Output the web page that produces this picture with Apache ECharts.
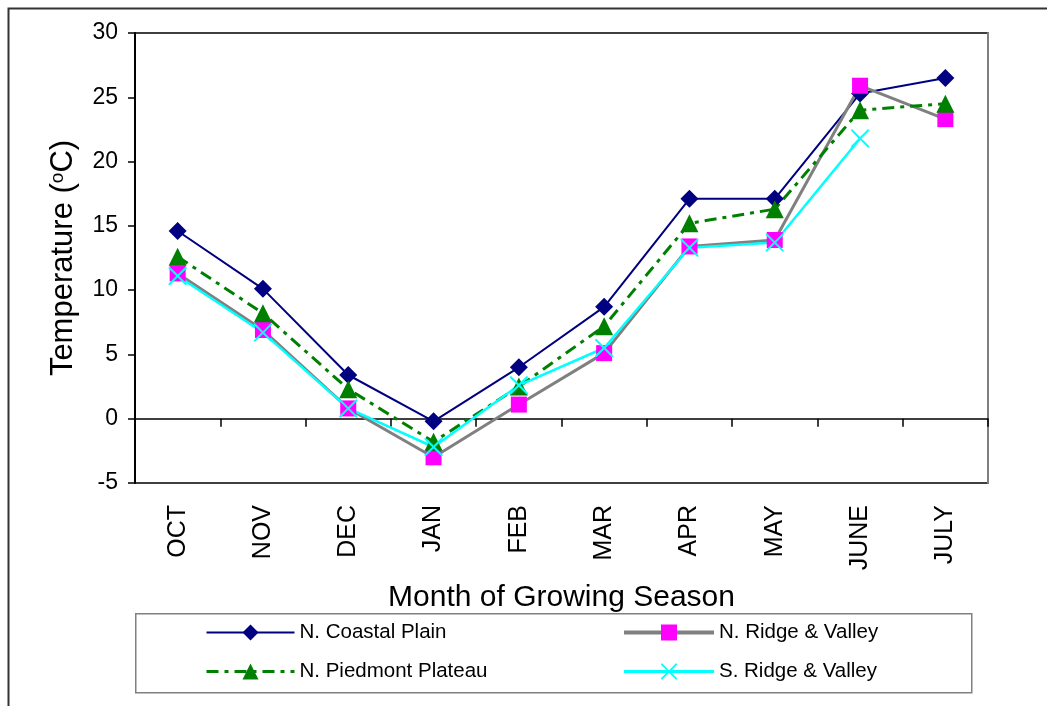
<!DOCTYPE html>
<html>
<head>
<meta charset="utf-8">
<script src="https://cdn.jsdelivr.net/npm/echarts@6/dist/echarts.min.js"></script>
<style>
  html, body { margin: 0; padding: 0; background: #ffffff; }
  #chart { width: 1047px; height: 706px; }
</style>
</head>
<body>
<div id="chart"></div>
<script>
// Months of the growing season (category axis)
const months = ['OCT', 'NOV', 'DEC', 'JAN', 'FEB', 'MAR', 'APR', 'MAY', 'JUNE', 'JULY'];

// Mean temperature (°C) per region
const coastalPlainN  = [14.6, 10.1, 3.4, -0.2, 4.0, 8.7, 17.1, 17.1, 25.3, 26.5];
const ridgeValleyN   = [11.3, 6.9, 0.8, -3.0, 1.1, 5.1, 13.4, 13.9, 25.9, 23.3];
const piedmontN      = [12.6, 8.2, 2.3, -1.8, 2.5, 7.2, 15.2, 16.3, 24.0, 24.5];
const ridgeValleyS   = [11.1, 6.7, 0.8, -2.2, 2.6, 5.5, 13.3, 13.7, 21.8, null];

// Y axis range and step
const yMin = -5, yMax = 30, yStep = 5;

const FONT = '"Liberation Sans", Arial, sans-serif';
// Thin "x" marker drawn as a filled outline
const crossSymbol = 'path://M0,0 L1.6,0 L10,8.4 L18.4,0 L20,0 L20,1.6 L11.6,10 L20,18.4 L20,20 L18.4,20 L10,11.6 L1.6,20 L0,20 L0,18.4 L8.4,10 L0,1.6 Z';

const chart = echarts.init(document.getElementById('chart'), null, { renderer: 'canvas' });

const legendText = { fontFamily: FONT, fontSize: 20.5, color: '#000', lineHeight: 20 };

chart.setOption({
  animation: false,
  backgroundColor: '#ffffff',
  textStyle: { fontFamily: FONT },
  graphic: [
    { // outer frame
      type: 'rect', left: 6, top: 6, z: -10,
      shape: { width: 1100, height: 760 },
      style: { fill: 'none', stroke: '#333333', lineWidth: 2 }
    },
    { // legend frame
      type: 'rect', left: 135, top: 613, z: -5,
      shape: { width: 836, height: 79 },
      style: { fill: '#ffffff', stroke: '#808080', lineWidth: 1.5 }
    }
  ],
  grid: {
    left: 135, right: 59, top: 33, bottom: 223,
    show: true, borderColor: '#000000', borderWidth: 1.5, backgroundColor: 'transparent'
  },
  legend: [
    {
      left: 205, top: 622, orient: 'vertical', itemGap: 18, padding: 0,
      itemWidth: 88, itemHeight: 20,
      data: [
        { name: 'N. Coastal Plain', lineStyle: { width: 2 } },
        { name: 'N. Piedmont Plateau', lineStyle: { width: 3 } }
      ],
      textStyle: legendText
    },
    {
      left: 622, top: 622, orient: 'vertical', itemGap: 18, padding: 0,
      itemWidth: 90, itemHeight: 20,
      data: [
        { name: 'N. Ridge & Valley', lineStyle: { width: 4 } },
        { name: 'S. Ridge & Valley', lineStyle: { width: 3 } }
      ],
      textStyle: legendText
    }
  ],
  xAxis: [
    { // labelled axis along the bottom of the plot
      type: 'category', data: months, position: 'bottom',
      axisLine: { show: false, onZero: false },
      axisTick: { show: false },
      axisLabel: { rotate: 90, margin: 22, fontSize: 25, color: '#000', fontFamily: FONT },
      name: 'Month of Growing Season',
      nameLocation: 'middle', nameGap: 100,
      nameTextStyle: { fontSize: 30, color: '#000', fontFamily: FONT },
      splitLine: { show: false }
    },
    { // zero line with ticks between months
      type: 'category', data: months, position: 'top',
      axisLine: { show: true, onZero: true, lineStyle: { color: '#000', width: 1.5 } },
      axisTick: { show: true, inside: true, length: 8, lineStyle: { color: '#000', width: 1.5 } },
      axisLabel: { show: false },
      splitLine: { show: false }
    }
  ],
  yAxis: [
    {
      type: 'value', min: yMin, max: yMax, interval: yStep, position: 'left',
      axisLine: { show: true, lineStyle: { color: '#000', width: 2 } },
      axisTick: { show: true, length: 7, lineStyle: { color: '#000', width: 1.5 } },
      axisLabel: { margin: 17, fontSize: 23, color: '#000', fontFamily: FONT },
      splitLine: { show: false },
      name: 'Temperature ({s|o}C)',
      nameLocation: 'middle', nameRotate: 90, nameGap: 56,
      nameTextStyle: {
        fontSize: 31, color: '#000', fontFamily: FONT,
        rich: { s: { fontSize: 19, color: '#000', fontFamily: FONT, verticalAlign: 'top', lineHeight: 30 } }
      }
    },
    {
      type: 'value', min: yMin, max: yMax, interval: yStep, position: 'right',
      axisLine: { show: true, lineStyle: { color: '#808080', width: 2 } },
      axisTick: { show: false }, axisLabel: { show: false }, splitLine: { show: false }
    }
  ],
  series: [
    {
      name: 'N. Coastal Plain', type: 'line', data: coastalPlainN,
      symbol: 'diamond', symbolSize: 18,
      lineStyle: { color: '#000080', width: 2 },
      itemStyle: { color: '#000080' }
    },
    {
      name: 'N. Ridge & Valley', type: 'line', data: ridgeValleyN,
      symbol: 'rect', symbolSize: 16,
      lineStyle: { color: '#808080', width: 3 },
      itemStyle: { color: '#ff00ff' }
    },
    {
      name: 'N. Piedmont Plateau', type: 'line', data: piedmontN,
      symbol: 'triangle', symbolSize: 18,
      lineStyle: { color: '#008000', width: 3, type: [12, 6, 4, 6] },
      itemStyle: { color: '#008000' }
    },
    {
      name: 'S. Ridge & Valley', type: 'line', data: ridgeValleyS,
      symbol: crossSymbol, symbolSize: 18,
      lineStyle: { color: '#00ffff', width: 2.5 },
      itemStyle: { color: '#00ffff' }
    }
  ]
});
</script>
</body>
</html>
